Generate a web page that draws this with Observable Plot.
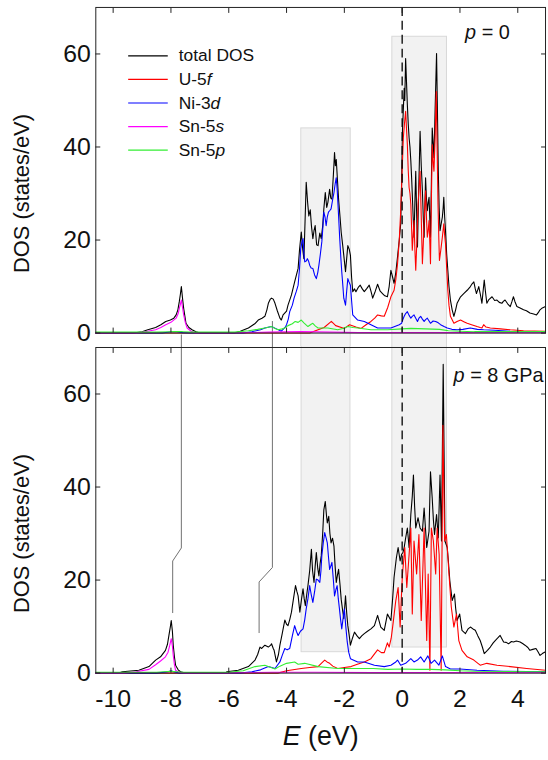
<!DOCTYPE html>
<html><head><meta charset="utf-8">
<script src="https://cdn.jsdelivr.net/npm/d3@7"></script>
<script src="https://cdn.jsdelivr.net/npm/@observablehq/plot@0.6"></script>
<style>
html,body{margin:0;padding:0;background:#fff;overflow:hidden;}
#chart svg{display:block;}
</style></head><body><div id="chart"></div>
<script>
// ---------- tick labels / text ----------
const xTicks = [-10, -8, -6, -4, -2, 0, 2, 4];
const yTicks = [0, 20, 40, 60];
const seriesNames = ["total DOS", "U-5f", "Ni-3d", "Sn-5s", "Sn-5p"];
const seriesColors = ["#000000", "#ff0000", "#0000ff", "#ff00ff", "#33ee33"];
const panelLabels = ["p = 0", "p = 8 GPa"];
const yLabel = "DOS (states/eV)";
const xLabel = "E (eV)";

// ---------- p = 0 : [E (eV), DOS] ----------
const top_total = [[-10.6,0],[-9.3,0],[-9.0,0.3],[-8.8,0.7],[-8.53,1.2],[-8.35,1.8],[-8.18,2.5],[-8.02,2.8],[-7.9,3.2],[-7.82,3.9],[-7.76,5.0],[-7.71,6.8],[-7.67,8.5],[-7.64,10.0],[-7.6,7.5],[-7.56,5.3],[-7.48,2.1],[-7.38,1.2],[-7.27,0.7],[-7.1,0.2],[-7.0,0],[-5.8,0],[-5.6,0.4],[-5.32,1.1],[-5.1,2.0],[-4.98,2.8],[-4.85,3.2],[-4.75,3.6],[-4.68,5.0],[-4.63,6.4],[-4.56,7.3],[-4.52,7.5],[-4.46,7.3],[-4.4,6.4],[-4.32,4.8],[-4.23,3.2],[-4.18,2.8],[-4.12,3.9],[-4.0,4.7],[-3.95,6.0],[-3.83,8.2],[-3.72,11],[-3.6,13.9],[-3.55,18],[-3.49,21.7],[-3.44,18],[-3.4,16],[-3.36,24],[-3.32,32.4],[-3.27,28],[-3.23,25.2],[-3.18,26.5],[-3.14,23.1],[-3.09,20.3],[-3.05,22],[-3.01,23.1],[-2.96,19],[-2.91,18.8],[-2.85,21.5],[-2.8,20.3],[-2.75,23],[-2.71,26.7],[-2.66,30.2],[-2.61,27],[-2.57,28.1],[-2.51,30.9],[-2.47,29],[-2.43,28.8],[-2.38,34],[-2.34,38.8],[-2.31,36],[-2.28,37.3],[-2.24,33],[-2.2,28.8],[-2.15,25],[-2.11,21.7],[-2.06,19],[-2.02,16.7],[-1.96,13.2],[-1.92,16],[-1.88,18.8],[-1.83,18],[-1.79,16.7],[-1.75,12],[-1.71,8.9],[-1.65,9.5],[-1.6,8.9],[-1.52,9.8],[-1.45,10.3],[-1.38,9.5],[-1.31,8.9],[-1.22,9.6],[-1.14,10.3],[-1.08,9],[-1.02,7.5],[-0.93,9],[-0.85,10.5],[-0.76,9],[-0.68,8.5],[-0.6,8],[-0.51,7.8],[-0.45,10],[-0.39,13.5],[-0.33,12],[-0.28,10.7],[-0.22,13],[-0.16,16.4],[-0.1,20],[-0.05,23.5],[-0.02,32],[0.01,43.4],[0.04,48],[0.07,52.6],[0.09,50],[0.12,59],[0.15,54],[0.18,49],[0.21,45],[0.24,42],[0.27,40],[0.3,37],[0.33,33],[0.35,29.9],[0.38,25],[0.41,20.6],[0.44,28],[0.47,34.8],[0.5,26],[0.53,18.5],[0.57,30],[0.62,43.4],[0.66,36],[0.7,30.6],[0.73,25],[0.76,20.6],[0.79,28],[0.81,33.4],[0.84,29],[0.87,26.3],[0.9,28],[0.93,29.2],[0.96,24],[0.98,20.6],[1.01,32],[1.04,44.1],[1.07,41],[1.1,37.7],[1.14,48],[1.19,60.1],[1.22,48],[1.25,34.8],[1.28,27],[1.31,22],[1.35,23.5],[1.39,24.9],[1.42,27],[1.44,29.2],[1.47,25],[1.5,22],[1.54,17],[1.58,13.5],[1.62,10],[1.67,7.1],[1.73,5],[1.79,3.6],[1.85,5],[1.9,6.4],[2.02,7.8],[2.13,8.5],[2.25,9.2],[2.36,10],[2.42,10.6],[2.48,11],[2.53,9.5],[2.57,8.5],[2.62,9.4],[2.65,10],[2.7,8.5],[2.76,6.4],[2.8,9],[2.84,11.4],[2.88,9],[2.93,6.4],[3.0,7.2],[3.11,7.8],[3.2,7.0],[3.28,7.1],[3.36,6.6],[3.45,6.4],[3.5,6.8],[3.56,7.1],[3.65,6.3],[3.74,5.7],[3.8,6.8],[3.85,7.8],[3.9,6.8],[3.97,5.7],[4.08,5.4],[4.2,5.0],[4.3,4.8],[4.42,4.3],[4.55,4.1],[4.65,3.9],[4.72,4.5],[4.77,5.0],[4.85,5.4],[4.96,5.7]];
const top_U5f = [[-10.6,0],[-3.2,0],[-3.0,0.5],[-2.7,1.2],[-2.45,2.5],[-2.3,1.6],[-2.0,1.0],[-1.82,1.8],[-1.6,1.3],[-1.42,1.0],[-1.25,1.8],[-1.08,2.5],[-0.95,3.2],[-0.85,3.9],[-0.72,3.7],[-0.62,3.6],[-0.5,5.5],[-0.39,7.8],[-0.28,9.2],[-0.22,11.5],[-0.16,14.9],[-0.1,20],[-0.05,26.3],[0.0,35],[0.04,42],[0.08,45],[0.12,47.7],[0.15,44],[0.18,40.5],[0.21,35],[0.24,31.3],[0.27,30],[0.3,27.7],[0.33,22],[0.35,17.8],[0.38,21],[0.41,24.2],[0.44,18],[0.47,13.5],[0.51,20],[0.55,27.7],[0.62,34.8],[0.66,25],[0.7,14.9],[0.73,19],[0.76,24.2],[0.81,30.6],[0.84,25],[0.87,20.6],[0.9,22],[0.93,24.2],[0.96,19],[0.98,14.9],[1.01,28],[1.04,40.5],[1.07,37],[1.1,34.8],[1.14,42],[1.18,51.9],[1.21,40],[1.24,27.7],[1.27,20],[1.29,15.6],[1.34,18],[1.39,20.6],[1.44,23.5],[1.47,21],[1.5,19.2],[1.54,14],[1.58,9.2],[1.62,6],[1.67,3.6],[1.79,2.1],[1.9,2.5],[2.02,2.8],[2.15,2.4],[2.25,2.1],[2.4,1.8],[2.59,1.4],[2.7,1.2],[2.76,1.1],[2.82,1.8],[2.9,1.3],[3.05,1.1],[3.4,0.9],[3.74,0.7],[4.2,0.5],[4.96,0.4]];
const top_Ni3d = [[-10.6,0],[-8.3,0],[-8.0,0.3],[-7.8,0.3],[-7.6,0.1],[-7.3,0],[-5.5,0],[-5.2,0.3],[-4.9,0.7],[-4.75,1.1],[-4.52,1.4],[-4.35,0.9],[-4.18,0.4],[-4.05,1.2],[-4.0,1.8],[-3.94,3],[-3.89,4.6],[-3.8,6],[-3.74,7.5],[-3.66,9],[-3.6,10.3],[-3.55,14],[-3.51,18.1],[-3.47,19.5],[-3.43,20.3],[-3.4,17],[-3.37,15.3],[-3.32,15.5],[-3.28,16],[-3.24,15.5],[-3.2,14.6],[-3.15,14],[-3.09,13.9],[-3.03,12.5],[-2.97,11.7],[-2.92,13],[-2.88,14.6],[-2.83,17],[-2.78,19.6],[-2.74,23],[-2.71,26],[-2.67,25],[-2.63,23.1],[-2.59,25],[-2.55,26],[-2.51,26.3],[-2.46,26.7],[-2.41,28.5],[-2.36,30.2],[-2.32,32],[-2.28,33.4],[-2.25,31],[-2.23,28.8],[-2.19,24],[-2.16,20.3],[-2.12,16],[-2.09,13.2],[-2.05,10],[-2.02,7.5],[-1.96,6.0],[-1.92,9],[-1.88,11.7],[-1.84,11],[-1.79,10.3],[-1.75,7],[-1.71,3.9],[-1.54,2.8],[-1.31,2.5],[-1.08,1.8],[-0.85,1.1],[-0.51,1.1],[-0.39,1.1],[-0.1,1.8],[-0.02,2.1],[0.03,3.0],[0.07,3.6],[0.12,4.2],[0.18,4.6],[0.24,3.8],[0.3,3.2],[0.35,3.6],[0.41,3.9],[0.47,3.2],[0.53,2.5],[0.58,3.2],[0.64,3.6],[0.7,3.0],[0.76,2.5],[0.81,2.9],[0.87,3.2],[0.93,2.6],[0.98,2.1],[1.07,2.6],[1.16,2.5],[1.25,2.2],[1.33,1.8],[1.45,1.4],[1.56,1.1],[1.72,0.8],[1.9,0.7],[2.1,0.8],[2.36,1.1],[2.6,0.8],[2.82,0.7],[3.2,0.6],[3.74,0.4],[4.3,0.35],[4.96,0.3]];
const top_Sn5s = [[-10.6,0],[-9.2,0],[-8.9,0.3],[-8.53,0.7],[-8.35,1.2],[-8.18,1.8],[-8.0,2.3],[-7.82,3.2],[-7.75,4.2],[-7.71,5.3],[-7.67,6.3],[-7.64,7.1],[-7.6,5.5],[-7.56,3.9],[-7.5,2.2],[-7.44,1.1],[-7.3,0.4],[-7.16,0],[-6.0,0],[-4.6,0.2],[-3.5,0.3],[-2.5,0.2],[-1.5,0.1],[0,0.1],[4.96,0.1]];
const top_Sn5p = [[-10.6,0.2],[-8.5,0.2],[-8.0,0.3],[-7.6,0.3],[-7.3,0.2],[-5.8,0.2],[-5.32,0.5],[-5.0,0.8],[-4.75,1.1],[-4.52,1.4],[-4.4,1.0],[-4.29,0.7],[-4.15,0.9],[-4.06,1.1],[-3.95,1.6],[-3.8,2.0],[-3.7,2.5],[-3.6,2.3],[-3.49,2.8],[-3.4,2.2],[-3.26,1.4],[-3.15,1.9],[-3.09,2.1],[-3.0,1.5],[-2.91,1.1],[-2.57,1.1],[-2.23,0.7],[-2.05,1.0],[-1.88,1.4],[-1.7,1.2],[-1.54,1.1],[-1.08,0.7],[-0.5,0.7],[0,0.9],[0.3,1.0],[0.8,0.9],[1.3,0.8],[1.6,0.5],[2.0,0.4],[2.5,0.3],[4.96,0.3]];

// ---------- p = 8 GPa : [E (eV), DOS] ----------
const bot_total = [[-10.6,0],[-9.8,0],[-9.68,0.3],[-9.11,0.6],[-8.76,1.4],[-8.53,2.8],[-8.36,3.5],[-8.19,4.9],[-8.12,6.2],[-8.07,8.1],[-8.02,10],[-7.99,11.3],[-7.95,9],[-7.92,6.0],[-7.88,3.5],[-7.84,1.7],[-7.75,0.7],[-7.67,0.3],[-7.5,0],[-6.1,0],[-6.07,0.3],[-5.67,0.6],[-5.32,1.4],[-5.09,2.8],[-5.0,4.0],[-4.92,5.6],[-4.86,5.3],[-4.75,6.0],[-4.63,5.6],[-4.55,6.0],[-4.52,6.3],[-4.46,5.3],[-4.43,4.9],[-4.35,2.4],[-4.28,4],[-4.23,6.0],[-4.15,8.5],[-4.06,11.4],[-4.0,10.5],[-3.95,10.2],[-3.89,11.5],[-3.83,13.1],[-3.76,16],[-3.69,18.8],[-3.64,17.5],[-3.6,16.6],[-3.54,13.1],[-3.48,16],[-3.43,18.1],[-3.39,16],[-3.35,14.5],[-3.3,17],[-3.26,18.8],[-3.2,22],[-3.14,26.6],[-3.1,22],[-3.05,19.5],[-3.01,23],[-2.97,25.9],[-2.92,22.5],[-2.88,20.9],[-2.84,23.5],[-2.8,25.2],[-2.75,30],[-2.71,35.1],[-2.66,36.9],[-2.62,34],[-2.59,32.3],[-2.54,33.7],[-2.5,30],[-2.46,28],[-2.41,29],[-2.36,27.3],[-2.32,23],[-2.28,19.5],[-2.24,21],[-2.2,22.3],[-2.15,19],[-2.11,15.9],[-2.06,13.5],[-2.02,11.7],[-1.99,14],[-1.96,16.6],[-1.92,13],[-1.88,10.2],[-1.83,8],[-1.79,6.0],[-1.72,7.5],[-1.65,8.8],[-1.56,8.0],[-1.48,7.4],[-1.4,8.0],[-1.31,8.5],[-1.2,9.0],[-1.08,9.5],[-0.96,10.2],[-0.85,12.4],[-0.74,9.9],[-0.62,9.2],[-0.51,12.7],[-0.45,12],[-0.39,11.3],[-0.33,16],[-0.28,20.6],[-0.2,24.8],[-0.14,27],[-0.07,24.1],[-0.02,25.5],[0.03,26],[0.07,27],[0.12,29],[0.18,31.2],[0.24,27],[0.3,34.1],[0.35,38],[0.39,42.6],[0.43,36],[0.47,31.2],[0.55,33.4],[0.62,31.2],[0.7,30.5],[0.76,35.5],[0.85,27],[0.93,30.5],[0.98,43.3],[1.04,37.6],[1.08,33],[1.12,29.8],[1.19,34.1],[1.25,29.1],[1.31,42.6],[1.36,28.4],[1.42,66.4],[1.48,28.4],[1.56,27],[1.6,24],[1.65,19.8],[1.73,15.6],[1.81,17],[1.85,14],[1.9,11.3],[1.99,12.7],[2.07,9.2],[2.19,8.5],[2.28,9.5],[2.36,9.9],[2.45,9.5],[2.53,9.2],[2.62,8],[2.7,7.0],[2.78,5.5],[2.84,4.2],[2.95,4.9],[3.05,5.6],[3.15,6.5],[3.22,7.0],[3.3,7.5],[3.39,8.1],[3.45,7.4],[3.51,6.7],[3.6,6.6],[3.68,6.3],[3.78,6.8],[3.85,6.7],[3.95,6.9],[4.08,6.7],[4.18,6.3],[4.25,6.0],[4.35,5.5],[4.42,4.9],[4.52,5.1],[4.63,5.3],[4.7,4.6],[4.77,3.8],[4.85,4.2],[4.96,4.6]];
const bot_U5f = [[-10.6,0],[-4.3,0],[-4.0,0.5],[-3.49,1.0],[-3.2,1.2],[-2.91,1.4],[-2.78,2.2],[-2.68,2.8],[-2.6,2.4],[-2.51,2.1],[-2.4,1.5],[-2.23,1.0],[-2.0,1.2],[-1.77,1.4],[-1.55,1.9],[-1.31,2.4],[-1.08,3.1],[-0.95,4.2],[-0.85,5.0],[-0.72,4.4],[-0.62,4.4],[-0.51,6.5],[-0.45,5.6],[-0.38,7.5],[-0.33,9.9],[-0.27,13],[-0.22,15.6],[-0.14,18.4],[-0.07,9.9],[-0.03,16],[0.01,21.3],[0.05,24],[0.09,27],[0.16,18.4],[0.24,25.5],[0.3,31.2],[0.35,12.7],[0.41,28.4],[0.5,21.3],[0.58,29.8],[0.66,11.3],[0.76,31.2],[0.85,7.0],[0.9,21.3],[0.96,0.6],[1.01,31.2],[1.08,28.4],[1.16,21.3],[1.21,31.2],[1.28,25.5],[1.35,0.6],[1.41,53.3],[1.47,28.4],[1.53,29.8],[1.62,21.3],[1.7,14.2],[1.79,9.9],[1.88,12.7],[1.96,7.0],[2.07,4.9],[2.25,3.5],[2.48,2.8],[2.7,1.7],[2.93,2.1],[3.28,1.7],[3.74,1.4],[4.31,1.0],[4.96,0.6]];
const bot_Ni3d = [[-10.6,0],[-8.5,0],[-8.1,0.3],[-8.0,0.5],[-7.9,0.3],[-7.7,0],[-5.6,0],[-5.2,0.3],[-4.9,0.7],[-4.63,1.4],[-4.4,1.0],[-4.23,2.4],[-4.15,3.8],[-4.06,5.3],[-3.98,5.0],[-3.89,5.3],[-3.8,8],[-3.72,10.2],[-3.66,9],[-3.6,8.1],[-3.52,9],[-3.43,9.5],[-3.37,11.5],[-3.32,13.8],[-3.26,16],[-3.2,18.8],[-3.15,17],[-3.09,15.2],[-3.03,17.5],[-2.97,20.2],[-2.91,20],[-2.85,19.5],[-2.81,22],[-2.78,25.2],[-2.73,28],[-2.68,30.2],[-2.63,29],[-2.59,28],[-2.55,25],[-2.51,22.3],[-2.47,23],[-2.43,23.8],[-2.38,20],[-2.34,16.6],[-2.29,18],[-2.25,18.8],[-2.21,16],[-2.17,13.8],[-2.13,11.5],[-2.09,9.5],[-2.05,11.5],[-2.0,13.8],[-1.95,10],[-1.9,6.7],[-1.85,4.5],[-1.79,3.1],[-1.54,2.4],[-1.31,2.4],[-0.96,1.7],[-0.62,1.4],[-0.39,1.7],[-0.22,2.4],[-0.16,2.8],[-0.05,1.7],[0.12,2.1],[0.3,3.1],[0.41,2.4],[0.53,2.8],[0.64,3.5],[0.76,2.4],[0.89,3.7],[1.0,2.1],[1.12,2.8],[1.27,1.7],[1.39,3.7],[1.5,1.4],[1.67,0.9],[2.0,0.9],[2.59,0.6],[3.5,0.4],[4.96,0.3]];
const bot_Sn5s = [[-10.6,0],[-9.6,0],[-9.2,0.3],[-8.76,0.8],[-8.53,1.8],[-8.36,2.6],[-8.19,3.5],[-8.1,4.5],[-8.04,6.0],[-7.99,7.4],[-7.95,5.8],[-7.92,3.8],[-7.88,1.8],[-7.84,0.6],[-7.7,0.1],[-7.5,0],[-6.0,0],[-4.5,0.2],[-3.0,0.2],[-1.0,0.1],[4.96,0.1]];
const bot_Sn5p = [[-10.6,0.2],[-8.5,0.2],[-8.0,0.4],[-7.6,0.2],[-6.0,0.2],[-5.5,0.5],[-5.09,1.4],[-4.75,1.7],[-4.4,0.9],[-4.23,1.5],[-4.0,2.1],[-3.72,2.4],[-3.6,1.9],[-3.37,2.1],[-2.91,1.4],[-2.23,1.0],[-1.0,1.0],[-0.5,0.8],[0,0.9],[0.5,0.8],[1.0,0.8],[1.5,0.7],[2.0,0.5],[2.5,0.4],[4.96,0.3]];

// ---------- shaded energy windows and peak connectors (data units) ----------
const topBoxes = [{x1:-3.49,x2:-1.78,y1:-3.2,y2:44},{x1:-0.34,x2:1.55,y1:-3.2,y2:63.7}];
const bottomBoxes = [{x1:-3.48,x2:-1.79,y1:4.5,y2:72},{x1:-0.34,x2:1.55,y1:5.5,y2:72}];
const topConnectors = [[[-7.64,-0.4],[-7.64,-3.2]],[[-4.49,2.5],[-4.49,-3.2]]];
const bottomConnectors = [[[-7.64,72],[-7.64,26.9],[-7.94,24.1],[-7.94,13.0]],[[-4.49,72],[-4.49,22.7],[-4.95,19.6],[-4.95,8.7]]];

// ---------- layout ----------
const FONT = "'Liberation Sans', Arial, sans-serif";
const W = 552, ML = 96, MR = 3;
const xDomain = [-10.6, 4.96];
const yDomain = [0, 70];

function panel({series, boxes, connectors, label, labelDx, labelDy, height, mt, mb, bottomLabels, legend}) {
  const marks = [
    Plot.rect(boxes, {x1:"x1", x2:"x2", y1:"y1", y2:"y2", fill:"#f2f2f2", stroke:"#d8d8d8", strokeWidth:1}),
    ...connectors.map(c => Plot.line(c, {x: d => d[0], y: d => d[1], stroke:"#707070", strokeWidth:1})),
    ...series.map((s, i) => Plot.line(s, {x: d => d[0], y: d => d[1], stroke: seriesColors[i], strokeWidth: 1.1})),
    Plot.ruleX([0], {stroke:"#000", strokeWidth:1.3, strokeDasharray:"9,5"}),
    Plot.frame({stroke:"#222", strokeWidth:1}),
    Plot.axisX({anchor:"bottom", ticks:xTicks, tickSize:-5, fill:"none", label:null, stroke:"#222"}),
    Plot.axisX({anchor:"top", ticks:xTicks, tickSize:-5, fill:"none", label:null, stroke:"#222"}),
    Plot.axisY({anchor:"left", ticks:yTicks, tickSize:-5, fill:"none", label:null, stroke:"#222"}),
    Plot.axisY({anchor:"right", ticks:yTicks, tickSize:-5, fill:"none", label:null, stroke:"#222"}),
    Plot.axisY({anchor:"left", ticks:yTicks, tickSize:0, tickPadding:5, fontSize:25, label:null, fill:"#111", tickFormat: d => String(d)}),
    // axis title centred a little below the middle of the panel, as in the original
    Plot.text([yLabel], {x: () => xDomain[0], y: () => 30, dx:-74, rotate:-90, fontSize:22, fill:"#111", textAnchor:"middle", lineAnchor:"middle"}),
    Plot.text([label], {frameAnchor:"top-right", dx:labelDx, dy:labelDy, textAnchor:"end", lineAnchor:"middle", fontSize:20, fill:"#111"})
  ];
  if (bottomLabels) {
    marks.push(Plot.axisX({anchor:"bottom", ticks:xTicks, tickSize:0, tickPadding:16, fontSize:25, label:null, fill:"#111", tickFormat: d => String(d)}));
    marks.push(Plot.text([xLabel], {frameAnchor:"bottom", dy:64, fontSize:27, lineAnchor:"middle", fill:"#111"}));
  }
  if (legend) {
    const ly = (d, i) => 59.6 - 5.07 * i;
    marks.push(Plot.link(seriesNames, {x1: () => -9.48, x2: () => -8.11, y1: ly, y2: ly, stroke: (d, i) => seriesColors[i], strokeWidth: 1.2}));
    marks.push(Plot.text(seriesNames, {x: () => -7.73, y: ly, textAnchor:"start", lineAnchor:"middle", fontSize:17.5, fill:"#111"}));
  }
  return Plot.plot({
    width: W, height, marginLeft: ML, marginRight: MR, marginTop: mt, marginBottom: mb,
    style: {fontFamily: FONT, background: "#fff"},
    x: {domain: xDomain},
    y: {domain: yDomain},
    color: {type: "identity"},
    marks
  });
}

const italicMap = {
  "U-5f": [["U-5",0],["f",1]],
  "Ni-3d": [["Ni-3",0],["d",1]],
  "Sn-5s": [["Sn-5",0],["s",1]],
  "Sn-5p": [["Sn-5",0],["p",1]],
  "p = 0": [["p",1],[" = 0",0]],
  "p = 8 GPa": [["p",1],[" = 8 GPa",0]],
  "E (eV)": [["E",1],[" (eV)",0]]
};
function italicize(svg) {
  const ns = "http://www.w3.org/2000/svg";
  svg.querySelectorAll("text").forEach(t => {
    const parts = italicMap[t.textContent];
    if (!parts) return;
    t.textContent = "";
    parts.forEach(([s, it]) => {
      const ts = document.createElementNS(ns, "tspan");
      ts.textContent = s;
      if (it) ts.setAttribute("font-style", "italic");
      t.appendChild(ts);
    });
  });
}

const topPlot = panel({
  series: [top_total, top_U5f, top_Ni3d, top_Sn5s, top_Sn5p],
  boxes: topBoxes, connectors: topConnectors,
  label: panelLabels[0], labelDx: -36, labelDy: 25,
  height: 349, mt: 7, mb: 14, bottomLabels: false, legend: true
});
const botPlot = panel({
  series: [bot_total, bot_U5f, bot_Ni3d, bot_Sn5s, bot_Sn5p],
  boxes: bottomBoxes, connectors: bottomConnectors,
  label: panelLabels[1], labelDx: -2, labelDy: 28,
  height: 411, mt: 1, mb: 82, bottomLabels: true, legend: false
});
[topPlot, botPlot].forEach(p => { italicize(p); document.getElementById("chart").appendChild(p); });
</script>
</body></html>
